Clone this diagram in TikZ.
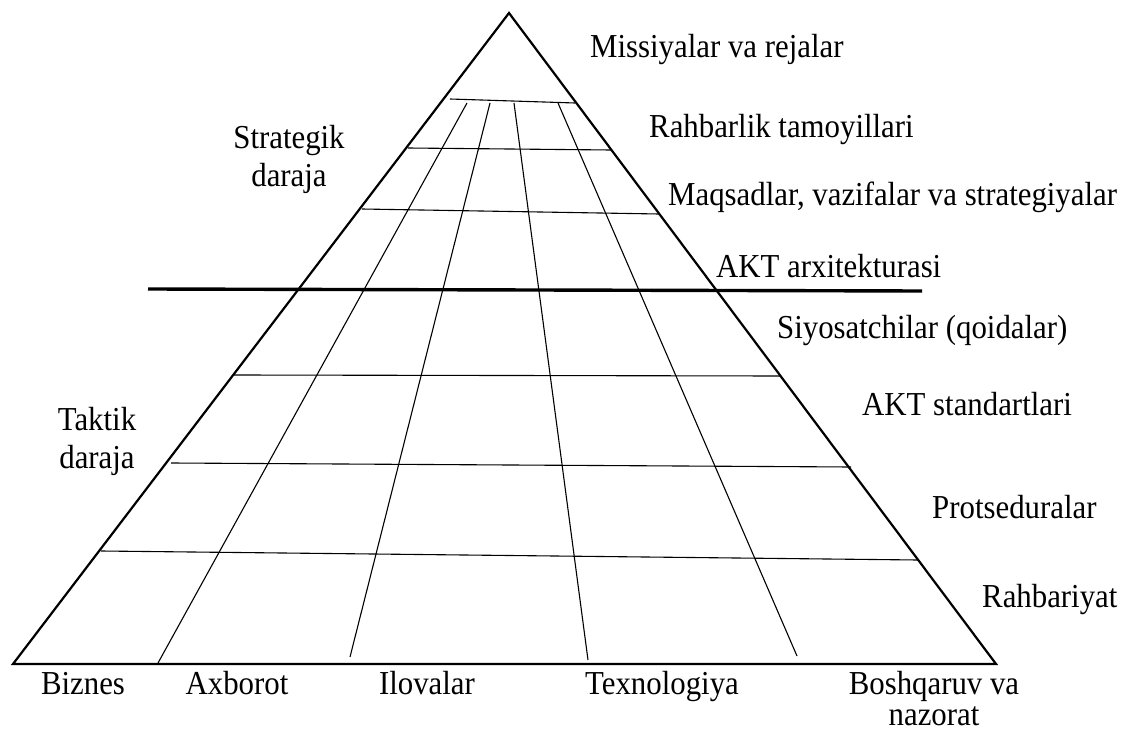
\documentclass[tikz,border=0pt]{standalone}
\usepackage{fontspec}
\setmainfont{Liberation Serif}[FakeStretch=0.92]
\begin{document}
\begin{tikzpicture}[x=1pt,y=-1pt,
  edge/.style={line width=2.2pt,line join=miter},
  thin/.style={line width=1.1pt},
  divider/.style={line width=3.4pt},
  lbl/.style={inner sep=0pt,font=\fontsize{33.5}{38}\selectfont}]
\useasboundingbox (0,0) rectangle (1136,733);
% triangle corners
\coordinate (apex) at (509,13);
\coordinate (bl) at (13,664);
\coordinate (br) at (996,664);
% horizontal lines
\coordinate (h1a) at (450,99);  \coordinate (h1b) at (575,103);
\coordinate (h2a) at (408,148); \coordinate (h2b) at (611,150);
\coordinate (h3a) at (362,209); \coordinate (h3b) at (659,214);
\coordinate (tda) at (148,289); \coordinate (tdb) at (922,291);
\coordinate (h5a) at (234,375); \coordinate (h5b) at (781,376);
\coordinate (h6a) at (171,463); \coordinate (h6b) at (851,467);
\coordinate (h7a) at (101,551); \coordinate (h7b) at (918,560);
% converging lines
\coordinate (va1) at (467,103); \coordinate (vb1) at (158,663);
\coordinate (va2) at (490,103); \coordinate (vb2) at (350,657);
\coordinate (va3) at (514,103); \coordinate (vb3) at (588,660);
\coordinate (va4) at (558,103); \coordinate (vb4) at (797,656);

\draw[thin] (h1a) -- (h1b);
\draw[thin] (h2a) -- (h2b);
\draw[thin] (h3a) -- (h3b);
\draw[thin] (h5a) -- (h5b);
\draw[thin] (h6a) -- (h6b);
\draw[thin] (h7a) -- (h7b);
\draw[thin] (va1) -- (vb1);
\draw[thin] (va2) -- (vb2);
\draw[thin] (va3) -- (vb3);
\draw[thin] (va4) -- (vb4);
\draw[divider] (tda) -- (tdb);
\draw[edge] (apex) -- (bl) -- (br) -- cycle;

% right labels
\node[lbl,anchor=base west] (t1) at (590,58) {Missiyalar va rejalar};
\node[lbl,anchor=base west] (t2) at (649,138) {Rahbarlik tamoyillari};
\node[lbl,anchor=base west] (t3) at (668,205) {Maqsadlar, vazifalar va strategiyalar};
\node[lbl,anchor=base west] (t4) at (716,277) {AKT arxitekturasi};
\node[lbl,anchor=base west] (t5) at (777,338) {Siyosatchilar (qoidalar)};
\node[lbl,anchor=base west] (t6) at (862,415) {AKT standartlari};
\node[lbl,anchor=base west] (t7) at (932,518) {Protseduralar};
\node[lbl,anchor=base west] (t8) at (982,607) {Rahbariyat};
% left labels
\node[lbl,anchor=base,align=center] (s1) at (289,187) {Strategik\\[1pt]daraja};
\node[lbl,anchor=base,align=center] (s2) at (97,468) {Taktik\\[0pt]daraja};
% bottom labels
\node[lbl,anchor=base] (b1) at (83,694) {Biznes};
\node[lbl,anchor=base] (b2) at (237,694) {Axborot};
\node[lbl,anchor=base] (b3) at (427,694) {Ilovalar};
\node[lbl,anchor=base] (b4) at (662,694) {Texnologiya};
\node[lbl,anchor=base,align=center] (b5) at (934,725) {Boshqaruv va\\[-7pt]nazorat};
\end{tikzpicture}
\end{document}
